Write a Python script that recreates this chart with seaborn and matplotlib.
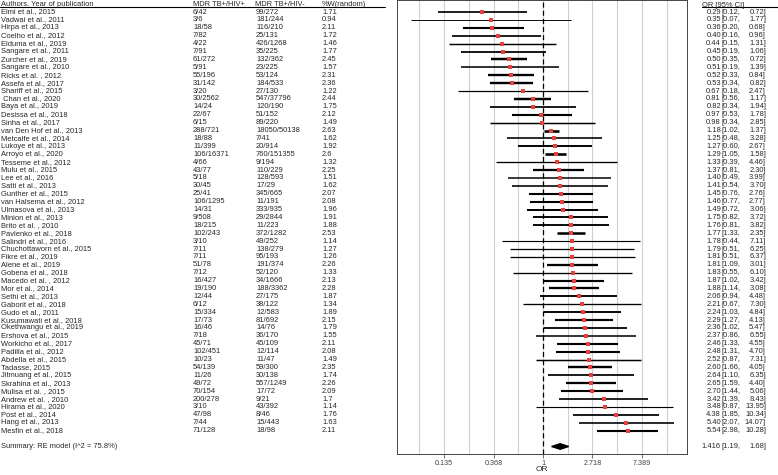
import numpy as np
import pandas as pd
import matplotlib
matplotlib.use("Agg")
from matplotlib import pyplot as plt
from matplotlib import transforms
import seaborn as sns

authors = ["Elmi et al., 2015", "Vadwai et al., 2011", "Hirpa et al., 2013", "Coelho et al., 2012",
           "Elduma et al., 2019", "Sangare et al., 2011", "Zurcher et al., 2019", "Sangare et al., 2010",
           "Ricks et al. , 2012", "Assefa et al., 2017", "Shariff et al., 2015", " Chan et al., 2020",
           "Baya et al., 2019", "Desissa et al., 2018", "Sinha et al., 2017", "van Den Hof et al., 2013",
           "Metcalfe et al., 2014", "Lukoye et al., 2013", "Arroyo et al., 2020", "Tesseme et al., 2012",
           "Mulu et al., 2015", "Lee et al., 2016", "Satti et al., 2013", "Gunther et al., 2015",
           "van Halsema et al., 2012", "Ulmasova et al., 2013", "Minion et al., 2013", "Brito et al. , 2010",
           "Pavlenko et al., 2018", "Salindri et al., 2016", "Chuchottaworn et al., 2015", "Fikre et al., 2019",
           "Alene et al., 2019", "Gobena et al., 2018", "Macedo et al. , 2012", "Mor et al., 2014",
           "Sethi et al., 2013", "Gaborit et al., 2018", "Gudo et al., 2011", "Kusumawati et al., 2018",
           "Okethwangu et al., 2019", "Ershova et al., 2015", "Workicho et al., 2017", "Padilla et al., 2012",
           "Abdella et al., 2015", "Tadasse, 2015", "Jitmuang et al., 2015", "Skrahina et al., 2013",
           "Mulisa et al. , 2015", "Andrew et al. , 2010", "Hirama et al., 2020", "Post et al., 2014",
           "Hang et al., 2013", "Mesfin et al., 2018"]
hiv_pos = ["6/42", "3/6", "18/58", "7/82", "4/22", "7/91", "61/272", "5/91", "55/196", "31/142", "3/20",
           "30/2562", "14/24", "22/67", "6/15", "288/721", "18/88", "11/399", "106/16371", "4/66", "43/77",
           "5/18", "30/45", "25/41", "106/1295", "14/31", "9/508", "18/215", "102/243", "3/10", "7/11", "7/11",
           "51/78", "7/12", "16/427", "19/190", "12/44", "6/12", "15/334", "17/73", "16/46", "7/18", "45/71",
           "102/451", "10/23", "54/139", "11/26", "49/72", "70/154", "200/278", "3/10", "47/98", "7/44",
           "71/128"]
hiv_neg = ["99/272", "181/244", "116/210", "25/131", "426/1268", "35/225", "132/362", "23/225", "53/124",
           "184/533", "27/130", "547/37796", "120/190", "51/152", "89/220", "18050/50138", "7/41", "20/914",
           "760/151355", "9/194", "110/229", "128/593", "17/29", "345/665", "11/191", "333/935", "29/2844",
           "11/223", "372/1282", "49/252", "138/279", "95/193", "191/374", "52/120", "34/1666", "188/3362",
           "27/175", "38/122", "12/583", "81/692", "14/76", "36/170", "45/109", "12/114", "11/47", "59/300",
           "30/138", "557/1249", "17/72", "9/21", "43/392", "8/46", "15/443", "18/98"]
weights = [1.71, 0.94, 2.11, 1.72, 1.46, 1.77, 2.45, 1.57, 2.31, 2.36, 1.22, 2.44, 1.75, 2.12, 1.49, 2.63,
           1.62, 1.92, 2.6, 1.32, 2.25, 1.51, 1.62, 2.07, 2.08, 1.96, 1.91, 1.88, 2.53, 1.14, 1.27, 1.26,
           2.26, 1.33, 2.13, 2.28, 1.87, 1.34, 1.89, 2.15, 1.79, 1.55, 2.11, 2.08, 1.49, 2.35, 1.74, 2.26,
           2.09, 1.7, 1.14, 1.76, 1.63, 2.11]
odds = [0.29, 0.35, 0.36, 0.40, 0.44, 0.45, 0.50, 0.51, 0.52, 0.53, 0.67, 0.81, 0.82, 0.97, 0.98, 1.18,
        1.25, 1.27, 1.29, 1.33, 1.37, 1.40, 1.41, 1.45, 1.46, 1.49, 1.75, 1.76, 1.77, 1.78, 1.79, 1.81,
        1.81, 1.83, 1.87, 1.88, 2.06, 2.21, 2.24, 2.29, 2.36, 2.37, 2.46, 2.48, 2.52, 2.60, 2.64, 2.65,
        2.70, 3.42, 3.48, 4.38, 5.40, 5.54]
lower = [0.12, 0.07, 0.20, 0.16, 0.15, 0.19, 0.35, 0.19, 0.33, 0.34, 0.18, 0.56, 0.34, 0.53, 0.34, 1.02,
         0.48, 0.60, 1.05, 0.39, 0.81, 0.49, 0.54, 0.76, 0.77, 0.72, 0.82, 0.81, 1.33, 0.44, 0.51, 0.51,
         1.09, 0.55, 1.02, 1.14, 0.94, 0.67, 1.03, 1.27, 1.02, 0.86, 1.33, 1.31, 0.87, 1.66, 1.10, 1.59,
         1.44, 1.39, 0.87, 1.85, 2.07, 2.98]
upper = [0.72, 1.77, 0.68, 0.96, 1.31, 1.06, 0.72, 1.39, 0.84, 0.82, 2.47, 1.17, 1.94, 1.78, 2.85, 1.37,
         3.28, 2.67, 1.58, 4.46, 2.30, 3.99, 3.70, 2.76, 2.77, 3.06, 3.72, 3.82, 2.35, 7.11, 6.25, 6.37,
         3.01, 6.10, 3.42, 3.08, 4.48, 7.30, 4.84, 4.13, 5.47, 6.55, 4.55, 4.70, 7.31, 4.05, 6.35, 4.40,
         5.06, 8.43, 13.95, 10.34, 14.07, 10.28]
summary_or, summary_lo, summary_hi = 1.416, 1.19, 1.68
tick_labels = ["0.135", "0.368", "1", "2.718", "7.389"]

df = pd.DataFrame({"author": authors, "pos": hiv_pos, "neg": hiv_neg, "w": weights,
                   "OR": odds, "lo": lower, "hi": upper})
df["row"] = np.arange(1, len(df) + 1)
summary_row = len(df) + 2

sns.set_style("white")
plt.rcParams["font.family"] = ["Liberation Sans", "DejaVu Sans"]

W, H = 778, 475
fig = plt.figure(figsize=(W / 100, H / 100), dpi=100)
ax = fig.add_axes([397 / W, 1 - 454 / H, (687 - 397) / W, 454 / H])

# grid, reference line
ax.set_xscale("log")
ax.set_xlim(np.exp(-2.95), np.exp(2.91))
ax.set_ylim(56.95, -0.52)
ax.set_xticks(np.exp(np.arange(-2, 3)))
ax.set_xticklabels(tick_labels)
ax.set_xticks(np.exp(np.arange(-2.5, 3, 1.0)), minor=True)
ax.set_xticklabels([], minor=True)
ax.grid(True, which="both", axis="x", color="#cfcfcf", lw=0.8)
ax.set_yticks([])
ax.tick_params(axis="x", which="major", direction="out", length=3, width=0.6, color="#555555",
               labelsize=5.2, labelcolor="#444444", pad=1, bottom=True)
ax.tick_params(axis="x", which="minor", length=0)
for s in ax.spines.values():
    s.set_color("#444444")
    s.set_linewidth(0.7)
ax.axvline(1, color="black", ls=(0, (4, 2.5)), lw=0.9, zorder=2)

# confidence intervals, thicker for larger weight
ax.hlines(df["row"], df["lo"], df["hi"], colors="black", linewidths=df["w"] * 0.72, zorder=3)
sns.scatterplot(data=df, x="OR", y="row", marker="s", color="#e8403c", s=6, linewidth=0,
                ax=ax, zorder=4, legend=False)

# summary diamond
d = 0.35
ax.fill([summary_lo, summary_or, summary_hi, summary_or],
        [summary_row, summary_row - d, summary_row, summary_row + d], color="black", zorder=4)
ax.set_xlabel("OR", fontsize=6)
ax.xaxis.set_label_coords(0.5, -0.027)

# text columns
tr = transforms.blended_transform_factory(fig.transFigure, ax.transData)
fs = 5.4
def px(x):
    return x / W

for x, t in [(1, "Authors. Year of publication"), (193, "MDR TB+/HIV+"),
             (255, "MDR TB+/HIV-"), (322, "%W(random)")]:
    ax.text(px(x), 0.3, t, transform=tr, fontsize=fs, va="baseline", ha="left", clip_on=False)
ax.plot([0, px(385)], [0.4, 0.4], transform=tr, color="black", lw=0.8, clip_on=False)
ax.text(px(702), 0.32, "OR [95% CI]", transform=tr, fontsize=fs, va="baseline", ha="left", clip_on=False)
ax.plot([px(702), 1], [0.42, 0.42], transform=tr, color="black", lw=0.8, clip_on=False)

for r in df.itertuples():
    kw = dict(transform=tr, fontsize=fs, va="center", clip_on=False)
    ax.text(px(1), r.row, r.author, ha="left", **kw)
    ax.text(px(193), r.row, r.pos, ha="left", **kw)
    ax.text(px(256), r.row, r.neg, ha="left", **kw)
    ax.text(px(322), r.row, f"{r.w:g}", ha="left", **kw)
    ax.text(px(721), r.row, f"{r.OR:.2f}", ha="right", **kw)
    ax.text(px(722), r.row, f"[{r.lo:.2f},", ha="left", **kw)
    ax.text(px(766), r.row, f"{r.hi:.2f}]", ha="right", **kw)

kw = dict(transform=tr, fontsize=fs, va="center", clip_on=False)
ax.text(px(1), summary_row, "Summary: RE model (I^2 = 75.8%)", ha="left", **kw)
ax.text(px(721), summary_row, f"{summary_or:.3f}", ha="right", **kw)
ax.text(px(722), summary_row, f"[{summary_lo:.2f},", ha="left", **kw)
ax.text(px(766), summary_row, f"{summary_hi:.2f}]", ha="right", **kw)

fig.savefig("out.png", dpi=100)
